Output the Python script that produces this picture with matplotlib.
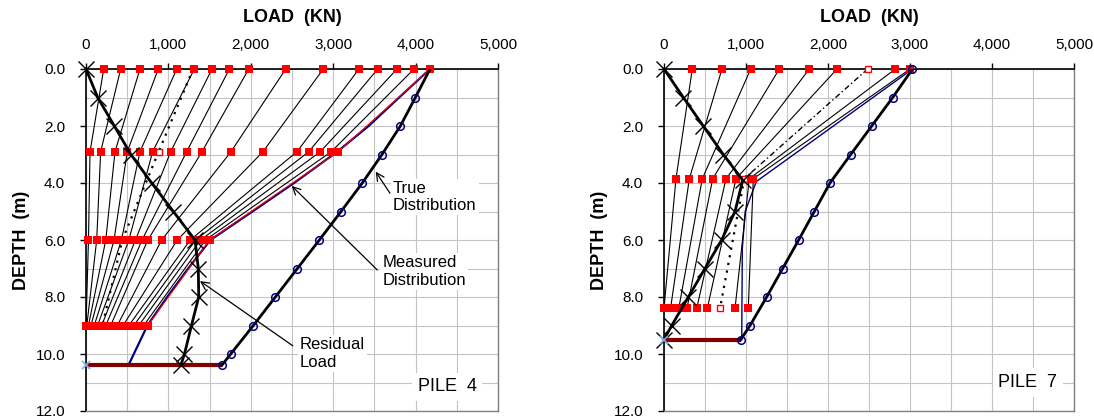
import matplotlib.pyplot as plt
from matplotlib.ticker import MultipleLocator, FuncFormatter

plt.rcParams['font.family'] = ['Liberation Sans', 'DejaVu Sans']

# ---- PILE 4 ----
p4_gauge_depth = [0.0, 2.9, 6.0, 9.0]
# load at each gauge level for every load step (same order in each list)
p4_q0 = [215, 421, 655, 877, 1101, 1315, 1529, 1740, 1975, 2424, 2880, 3313, 3540, 3774, 3981, 4175]
p4_q1 = [49, 178, 352, 501, 655, 809, 1028, 1222, 1408, 1760, 2148, 2561, 2703, 2844, 2977, 3062]
p4_q2 = [30, 130, 240, 340, 430, 520, 600, 680, 750, 918, 1108, 1265, 1330, 1390, 1450, 1500]
p4_q3 = [0, 10, 30, 60, 100, 140, 190, 240, 300, 380, 450, 520, 580, 640, 700, 749]
p4_unload = [1300, 882, 440, 200]
p4_unload_open = [False, True, False, False]

p4_meas_depth = [0, 1, 2, 2.9, 4, 5, 6, 7, 8, 9, 10.4]
p4_meas_load = [4175, 3800, 3430, 3050, 2525, 2020, 1510, 1240, 985, 745, 514]

p4_true_depth = [0, 1, 2, 3, 4, 5, 6, 7, 8, 9, 10, 10.4]
p4_true_load = [4175, 3997, 3815, 3592, 3353, 3095, 2832, 2565, 2298, 2031, 1756, 1647]

p4_res_depth = [0, 1, 2, 3, 4, 5, 6, 7, 8, 9, 10, 10.4]
p4_res_load = [0, 142, 344, 545, 797, 1060, 1323, 1363, 1368, 1280, 1195, 1150]

p4_toe_depth = 10.4
p4_toe_load = 1647

# ---- PILE 7 ----
p7_gauge_depth = [0.0, 3.85, 8.4]
p7_q0 = [345, 707, 1057, 1406, 1772, 2110, 2821, 3000]
p7_q1 = [146, 309, 467, 594, 756, 878, 1040, 1089]
p7_q2 = [0, 80, 180, 280, 399, 528, 866, 1028]
p7_unload = [2484, 979, 683]
p7_unload_open = [True, True, True]

p7_meas_depth = [0, 3.95, 5.0, 6.3, 9.5]
p7_meas_load = [3030, 1125, 990, 955, 948]

p7_true_depth = [0, 1, 2, 3, 4, 5, 6, 7, 8, 9, 9.5]
p7_true_load = [3030, 2789, 2533, 2277, 2024, 1833, 1642, 1447, 1252, 1049, 935]

p7_res_depth = [0, 1, 2, 3, 3.9, 5, 6, 7, 8, 9, 9.5]
p7_res_load = [0, 236, 479, 723, 960, 866, 703, 500, 297, 94, 0]

p7_toe_depth = 9.5
p7_toe_load = 935

RED = '#ff0000'
NAVY = '#000080'


def setup_axes(ax):
    ax.set_xlim(0, 5000)
    ax.set_ylim(12, 0)
    ax.xaxis.tick_top()
    ax.xaxis.set_label_position('top')
    ax.xaxis.set_major_locator(MultipleLocator(1000))
    ax.xaxis.set_minor_locator(MultipleLocator(500))
    ax.yaxis.set_major_locator(MultipleLocator(2))
    ax.yaxis.set_minor_locator(MultipleLocator(1))
    ax.xaxis.set_major_formatter(FuncFormatter(lambda v, p: f'{int(v):,}'))
    ax.yaxis.set_major_formatter(FuncFormatter(lambda v, p: f'{v:.1f}'))
    ax.tick_params(which='major', direction='out', length=4, width=1, labelsize=11)
    ax.tick_params(axis='x', pad=8)
    ax.tick_params(axis='y', pad=11)
    ax.tick_params(which='minor', length=0)
    ax.grid(True, which='both', color='#c4c4c4', lw=0.8)
    ax.set_axisbelow(True)
    for s in ['top', 'left']:
        ax.spines[s].set_color('black')
        ax.spines[s].set_linewidth(1.2)
    for s in ['right', 'bottom']:
        ax.spines[s].set_color('#808080')
        ax.spines[s].set_linewidth(1.0)
    ax.set_xlabel('LOAD  (KN)', fontsize=13, fontweight='bold', labelpad=12)
    ax.set_ylabel('DEPTH  (m)', fontsize=13, fontweight='bold', labelpad=4)


def draw_pile(ax, gauge_depth, levels, unload, unload_open, meas_d, meas_q,
              true_d, true_q, res_d, res_q, toe_d, toe_q, last_red):
    steps = list(zip(*levels))
    # load distribution for every load step
    for i, q in enumerate(steps):
        col = RED if (last_red and i == len(steps) - 1) else 'black'
        ax.plot(q, gauge_depth, color=col, lw=0.8, zorder=3)
    # unloading step
    ax.plot(unload[:2], gauge_depth[:2], color='black', lw=1.0 if not last_red else 1.6,
            ls=(0, (1, 2.5)) if last_red else (0, (4, 2, 1, 2)), zorder=3)
    ax.plot(unload[1:], gauge_depth[1:], color='black', lw=1.6, ls=(0, (1, 2.5)), zorder=3)
    # measured distribution
    ax.plot(meas_q, meas_d, color=NAVY, lw=1.6 if last_red else 1.0, zorder=2.5)
    # toe
    ax.plot([0, toe_q], [toe_d, toe_d], color='#800000', lw=3, zorder=4,
            solid_capstyle='butt')
    # gauge readings
    for q in steps:
        ax.plot(q, gauge_depth, ls='none', marker='s', ms=6, color=RED, mew=0,
                zorder=5, clip_on=False)
    uq = [q for q, o in zip(unload, unload_open) if o]
    ud = [d for d, o in zip(gauge_depth, unload_open) if o]
    ax.plot(uq, ud, ls='none', marker='s', ms=5, mfc='white', mec=RED, mew=1,
            zorder=6, clip_on=False)
    # true distribution
    ax.plot(true_q, true_d, color='black', lw=2, zorder=6)
    ax.plot(true_q[1:], true_d[1:], ls='none', marker='o', ms=5.5, mfc='none',
            mec=NAVY, mew=1.1, zorder=7)
    # residual load
    ax.plot(res_q, res_d, color='black', lw=2, marker='x', ms=11, mew=1, zorder=7,
            clip_on=False)
    ax.plot([0], [toe_d], ls='none', marker='x', ms=6, color='#7fb2e5', mew=1.2,
            zorder=8, clip_on=False)


fig = plt.figure(figsize=(10.94, 4.2), dpi=100)
ax1 = fig.add_axes([86 / 1094, 9 / 420, 412 / 1094, 342 / 420])
ax2 = fig.add_axes([664 / 1094, 9 / 420, 410 / 1094, 342 / 420])

for ax in (ax1, ax2):
    setup_axes(ax)

draw_pile(ax1, p4_gauge_depth, [p4_q0, p4_q1, p4_q2, p4_q3], p4_unload, p4_unload_open,
          p4_meas_depth, p4_meas_load, p4_true_depth, p4_true_load,
          p4_res_depth, p4_res_load, p4_toe_depth, p4_toe_load, True)
draw_pile(ax2, p7_gauge_depth, [p7_q0, p7_q1, p7_q2], p7_unload, p7_unload_open,
          p7_meas_depth, p7_meas_load, p7_true_depth, p7_true_load,
          p7_res_depth, p7_res_load, p7_toe_depth, p7_toe_load, False)
# top point of the true distribution on pile 7
ax2.plot(p7_true_load[:1], p7_true_depth[:1], ls='none', marker='o', ms=5.5,
         mfc='none', mec=NAVY, mew=1.1, zorder=8, clip_on=False)

box = dict(facecolor='white', edgecolor='none', pad=1.5)
arrow = dict(arrowstyle='->', color='black', lw=0.9, shrinkA=0, shrinkB=0,
             mutation_scale=14)

ax1.annotate('', xy=(3516, 3.6), xytext=(3689, 4.36), arrowprops=arrow, zorder=9)
ax1.text(3726, 4.5, 'True\nDistribution', fontsize=12, ha='left', va='center',
         linespacing=1.2, bbox=box, zorder=9)
ax1.annotate('', xy=(2496, 4.1), xytext=(3535, 7.05), arrowprops=arrow, zorder=9)
ax1.text(3595, 7.1, 'Measured\nDistribution', fontsize=12, ha='left', va='center',
         linespacing=1.2, bbox=box, zorder=9)
ax1.annotate('', xy=(1383, 7.44), xytext=(2509, 9.71), arrowprops=arrow, zorder=9)
ax1.text(2597, 9.98, 'Residual\nLoad', fontsize=12, ha='left', va='center',
         linespacing=1.2, bbox=box, zorder=9)

ax1.text(4740, 11.15, 'PILE  4', fontsize=13, ha='right', va='center',
         bbox=dict(facecolor='white', edgecolor='none', pad=4), zorder=9)
ax2.text(4793, 11.0, 'PILE  7', fontsize=13, ha='right', va='center',
         bbox=dict(facecolor='white', edgecolor='none', pad=4), zorder=9)

fig.savefig('out.png', dpi=100)
